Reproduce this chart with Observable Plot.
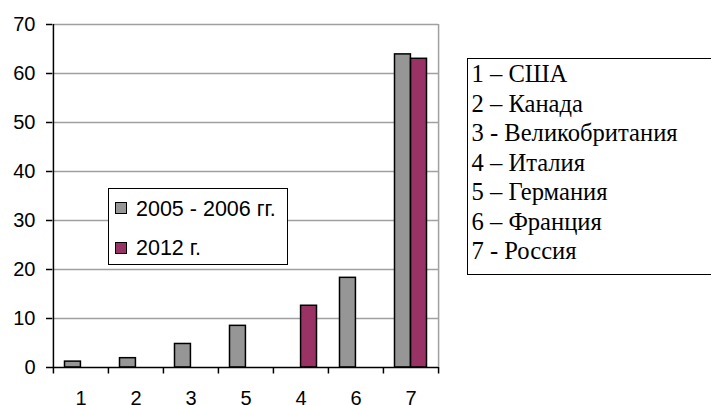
<!DOCTYPE html>
<html><head><meta charset="utf-8">
<script src="https://cdn.jsdelivr.net/npm/d3@7"></script>
<script src="https://cdn.jsdelivr.net/npm/@observablehq/plot@0.6"></script>
<style>
body{margin:0;background:#fff}
#wrap{position:relative;width:711px;height:405px;overflow:hidden;background:#fff}
#wrap svg{position:absolute;left:0;top:0}
.leg{position:absolute;background:#fff;border:1.5px solid #000;box-sizing:border-box}
.sw{position:absolute;width:12px;height:12px;border:1.5px solid #000;box-sizing:border-box}
.lt{position:absolute;font-family:"Liberation Sans",Arial,sans-serif;font-size:21.5px;line-height:20px;white-space:nowrap;color:#000}
#names{font-family:"Liberation Serif","Times New Roman",serif;font-size:24.6px;line-height:29.5px;padding:0 0 0 3.5px;white-space:nowrap;color:#000}
</style></head><body><div id="wrap"></div>
<script>
const categories = ["1", "2", "3", "5", "4", "6", "7"];
const seriesNames = ["2005 - 2006 гг.", "2012 г."];
const values2005 = [1.2, 1.9, 4.8, 8.5, null, 18.3, 63.9];
const values2012 = [null, null, null, null, 12.6, null, 63.0];
const yTicks = [0, 10, 20, 30, 40, 50, 60, 70];
const countryLabels = ["1 – США", "2 – Канада", "3 - Великобритания", "4 – Италия", "5 – Германия", "6 – Франция", "7 - Россия"];
const colors = ["#969696", "#993366"];

const W = 711, H = 405, ML = 52, MR = 273, MT = 24, MB = 38;
const step = (W - ML - MR) / categories.length;
const yMax = 70;
const gap = 11.5;

const rows2005 = categories.map((c, i) => ({cat: c, value: values2005[i]})).filter(d => d.value != null);
const rows2012 = categories.map((c, i) => ({cat: c, value: values2012[i]})).filter(d => d.value != null);

const chart = Plot.plot({
  width: W, height: H,
  marginLeft: ML, marginRight: MR, marginTop: MT, marginBottom: MB,
  style: {fontFamily: "'Liberation Sans', Arial, sans-serif", fontSize: "20px", color: "#000", background: "transparent"},
  x: {type: "band", domain: categories, padding: 0, axis: null, label: null},
  y: {domain: [0, yMax], axis: null, label: null},
  marks: [
    Plot.ruleY(yTicks.filter(t => t > 0), {stroke: "#a0a0a0", strokeWidth: 1.5}),
    Plot.ruleX([categories[categories.length - 1]], {y1: 0, y2: yMax, dx: step / 2, stroke: "#a0a0a0", strokeWidth: 1.5}),
    Plot.barY(rows2005, {x: "cat", y: "value", fill: colors[0], stroke: "#000", strokeWidth: 1.5, insetLeft: gap, insetRight: step / 2}),
    Plot.barY(rows2012, {x: "cat", y: "value", fill: colors[1], stroke: "#000", strokeWidth: 1.5, insetLeft: step / 2, insetRight: gap}),
    Plot.ruleX([categories[0]], {y1: 0, y2: yMax, dx: -step / 2, stroke: "#000", strokeWidth: 1.5}),
    Plot.ruleY([0], {stroke: "#000", strokeWidth: 1.5}),
    Plot.axisY(yTicks, {tickSize: 6, tickPadding: 11, strokeWidth: 1.5, stroke: "#000", fill: "#000", fontSize: 20, label: null}),
    Plot.axisX(categories, {tickSize: 0, tickPadding: 23, fill: "#000", fontSize: 20, label: null}),
    Plot.axisX(categories, {tickSize: 6.5, tickFormat: () => "", dx: -step / 2, stroke: "#000", strokeWidth: 1.5, label: null}),
    Plot.axisX([categories[categories.length - 1]], {tickSize: 6.5, tickFormat: () => "", dx: step / 2, stroke: "#000", strokeWidth: 1.5, label: null})
  ]
});
const wrap = document.getElementById("wrap");
wrap.appendChild(chart);

// inner series legend
const leg = document.createElement("div");
leg.className = "leg";
Object.assign(leg.style, {left: "108px", top: "188px", width: "180px", height: "77px"});
wrap.appendChild(leg);
seriesNames.forEach((name, i) => {
  const sw = document.createElement("div");
  sw.className = "sw";
  sw.style.background = colors[i];
  sw.style.left = "115px";
  sw.style.top = (202 + i * 39.5) + "px";
  wrap.appendChild(sw);
  const t = document.createElement("div");
  t.className = "lt";
  t.textContent = name;
  t.style.left = "136px";
  t.style.top = (198.5 + i * 39.5) + "px";
  wrap.appendChild(t);
});

// right-hand key of country numbers
const names = document.createElement("div");
names.className = "leg";
names.id = "names";
Object.assign(names.style, {left: "467px", top: "58px", width: "270px", height: "216.5px"});
countryLabels.forEach(s => {
  const d = document.createElement("div");
  d.textContent = s;
  names.appendChild(d);
});
wrap.appendChild(names);
</script></body></html>
